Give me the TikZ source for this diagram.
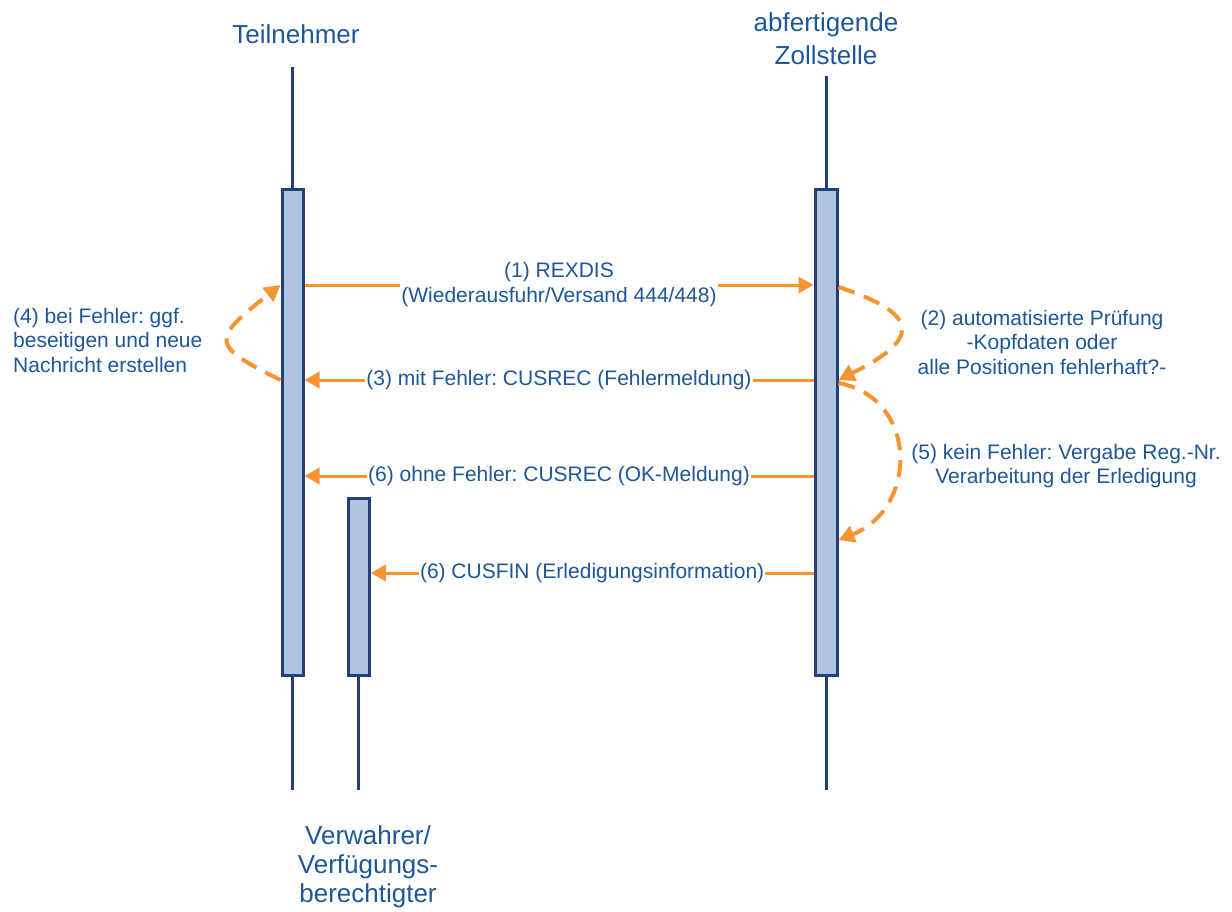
\documentclass[tikz,border=0pt]{standalone}
\usepackage{fontspec}
\setmainfont{Liberation Sans}
\usetikzlibrary{arrows.meta,calc}
\frenchspacing

\definecolor{lineblue}{RGB}{35,64,120}
\definecolor{barfill}{RGB}{176,196,222}
\definecolor{msgorange}{RGB}{247,148,48}
\definecolor{textblue}{RGB}{30,86,152}

\tikzset{
  actor/.style={text=textblue,font=\fontsize{26}{29}\selectfont,align=center,inner sep=0pt},
  lifeline/.style={draw=lineblue,line width=3pt},
  actbar/.style={draw=lineblue,fill=barfill,line width=3pt,inner sep=0pt,minimum width=21pt},
  msg/.style={draw=msgorange,line width=3pt,-{Triangle[length=15pt,width=16pt]}},
  selfmsg/.style={draw=msgorange,line width=4pt,dash pattern=on 17pt off 10pt,
    -{Triangle[length=16pt,width=17pt]}},
  msglabel/.style={text=textblue,font=\fontsize{21}{25}\selectfont,fill=white,
    inner sep=1pt,align=center},
  note/.style={text=textblue,font=\fontsize{21}{24.5}\selectfont,inner sep=0pt},
}

\begin{document}
\begin{tikzpicture}[x=1pt,y=-1pt]
  \useasboundingbox (0,0) rectangle (1232,912);

  % Heights of the messages
  \coordinate (top) at (0,67);
  \coordinate (ztop) at (0,76);
  \coordinate (bottom) at (0,790);
  \coordinate (y1) at (0,285);
  \coordinate (y3) at (0,380);
  \coordinate (y6) at (0,476);
  \coordinate (y7) at (0,573);

  % Actors
  \node[actor,anchor=base] (tn) at (296,44) {Teilnehmer};
  \node[actor] (zs) at (826,39) {abfertigende\\[4pt]Zollstelle};
  \node[actor] (vw) at (368,867) {Verwahrer/\\Verfügungs-\\berechtigter};

  % Activation bars
  \node[actbar,minimum height=485pt] (tnbar) at (292.5,432.5) {};
  \node[actbar,minimum height=485pt,minimum width=22pt] (zsbar) at (826,432.5) {};
  \node[actbar,minimum height=177pt] (vwbar) at (358.8,587) {};

  % Lifelines
  \draw[lifeline] (tnbar.north) -- (tnbar.north |- top);
  \draw[lifeline] (tnbar.south) -- (tnbar.south |- bottom);
  \draw[lifeline] (zsbar.north) -- (zsbar.north |- ztop);
  \draw[lifeline] (zsbar.south) -- (zsbar.south |- bottom);
  \draw[lifeline] (vwbar.south) -- (vwbar.south |- bottom);

  % Messages
  \draw[msg] (tnbar.east |- y1) -- node[msglabel] (m1)
    {(1) REXDIS\\(Wiederausfuhr/Versand 444/448)} (zsbar.west |- y1);
  \draw[msg] (zsbar.west |- y3) -- node[msglabel] (m3)
    {(3) mit Fehler: CUSREC (Fehlermeldung)} (tnbar.east |- y3);
  \draw[msg] (zsbar.west |- y6) -- node[msglabel] (m6)
    {(6) ohne Fehler: CUSREC (OK-Meldung)} (tnbar.east |- y6);
  \draw[msg] (zsbar.west |- y7) -- node[msglabel] (m7)
    {(6) CUSFIN (Erledigungsinformation)} (vwbar.east |- y7);

  % Self messages
  \coordinate (s2) at ($(zsbar.east |- y1)+(0,2)$);
  \coordinate (e2) at (zsbar.east |- y3);
  \draw[selfmsg] (s2) .. controls ($(s2)+(85,28)$) and ($(e2)+(80,-40)$) .. (e2);
  \coordinate (s5) at ($(zsbar.east |- y3)+(0,3)$);
  \coordinate (e5) at (zsbar.east |- 0,540);
  \draw[selfmsg] (s5) .. controls ($(s5)+(80,15)$) and ($(e5)+(80,-32)$) .. (e5);
  \coordinate (s4) at (tnbar.west |- y3);
  \coordinate (e4) at (tnbar.west |- y1);
  \draw[selfmsg] (s4) .. controls ($(s4)+(-70,-35)$) and ($(e4)+(-70,55)$) .. (e4);

  % Notes
  \node[note,align=center] (n2) at (1042,342)
    {(2) automatisierte Prüfung\\-Kopfdaten oder\\alle Positionen fehlerhaft?-};
  \node[note,align=center] (n5) at (1066,466)
    {(5) kein Fehler: Vergabe Reg.-Nr.\\Verarbeitung der Erledigung};
  \node[note,align=left,anchor=west] (n4) at (13,340)
    {(4) bei Fehler: ggf.\\beseitigen und neue\\Nachricht erstellen};
\end{tikzpicture}
\end{document}
